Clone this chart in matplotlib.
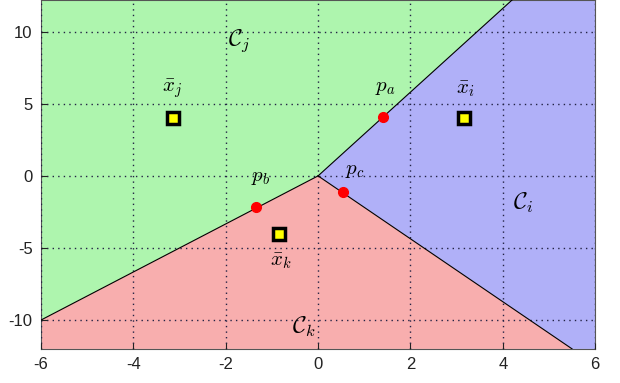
import matplotlib
matplotlib.use('Agg')
import matplotlib.pyplot as plt
import numpy as np

plt.rcParams['mathtext.fontset'] = 'cm'
plt.rcParams['axes.unicode_minus'] = False
plt.rcParams['font.family'] = ['Liberation Sans', 'DejaVu Sans']

# ray end points of the decision boundaries (all start at origin)
origin = (0, 0)
ray_a = (4.2, 12.2)    # between C_j and C_i
ray_b = (-6, -10)      # between C_j and C_k
ray_c = (5.5, -12)     # between C_i and C_k

# class means
mean_x = [3.15, -3.15, -0.85]
mean_y = [4.0, 4.0, -4.0]
mean_names = [r'$\bar{x}_i$', r'$\bar{x}_j$', r'$\bar{x}_k$']

# points on boundaries
p_x = [1.4, -1.35, 0.55]
p_y = [4.1, -2.15, -1.15]
p_names = [r'$p_a$', r'$p_b$', r'$p_c$']

xlim = (-6, 6)
ylim = (-12, 12.2)

fig = plt.figure(figsize=(6.2, 3.83), dpi=100)
ax = fig.add_axes([0.066, 0.089, 0.894, 0.911])

green = '#aef5ae'
blue = '#b0b0f8'
red = '#f8aeae'

# green region C_j
ax.fill([origin[0], ray_a[0], xlim[0], xlim[0], ray_b[0]],
        [origin[1], ray_a[1], ylim[1], ray_b[1], ray_b[1]], color=green, lw=0)
# blue region C_i
ax.fill([origin[0], ray_a[0], xlim[1], xlim[1], ray_c[0]],
        [origin[1], ray_a[1], ylim[1], ylim[0], ray_c[1]], color=blue, lw=0)
# red region C_k
ax.fill([origin[0], ray_b[0], xlim[0], ray_c[0]],
        [origin[1], ray_b[1], ylim[0], ray_c[1]], color=red, lw=0)

for r in (ray_a, ray_b, ray_c):
    ax.plot([origin[0], r[0]], [origin[1], r[1]], color='k', lw=0.8, zorder=3)

ax.plot(p_x, p_y, 'o', color='red', ms=7, mec='red', zorder=4)
ax.plot(mean_x, mean_y, 's', mfc='yellow', mec='k', mew=2.5, ms=9, zorder=5)

ax.grid(True, color='#222244', linestyle=(0, (1, 3)), linewidth=1.0)
ax.set_axisbelow(False)

fs = 15
ax.text(3.2, 6.0, mean_names[0], fontsize=fs, ha='center', va='center')
ax.text(-3.15, 6.0, mean_names[1], fontsize=fs, ha='center', va='center')
ax.text(-0.8, -5.9, mean_names[2], fontsize=fs, ha='center', va='center')
ax.text(1.45, 6.1, p_names[0], fontsize=fs, ha='center', va='center')
ax.text(-1.25, -0.1, p_names[1], fontsize=fs, ha='center', va='center')
ax.text(0.8, 0.4, p_names[2], fontsize=fs, ha='center', va='center')
ax.text(-1.7, 9.4, r'$\mathcal{C}_j$', fontsize=17, ha='center', va='center')
ax.text(4.45, -1.9, r'$\mathcal{C}_i$', fontsize=17, ha='center', va='center')
ax.text(-0.3, -10.5, r'$\mathcal{C}_k$', fontsize=17, ha='center', va='center')

ax.set_xlim(xlim)
ax.set_ylim(ylim)
ax.set_xticks(np.arange(-6, 7, 2))
ax.set_yticks([-10, -5, 0, 5, 10])
ax.tick_params(direction='in', labelsize=12, colors='#222222', length=4, pad=6)
for s in ax.spines.values():
    s.set_color('#555555')

fig.savefig('out.png', dpi=100)
